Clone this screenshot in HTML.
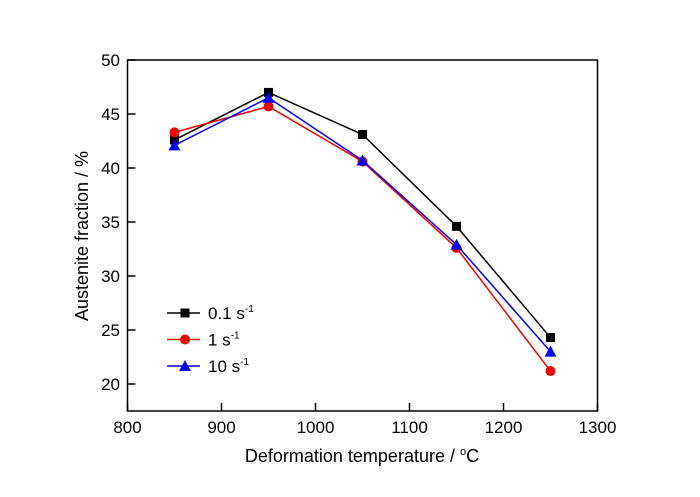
<!DOCTYPE html>
<html><head><meta charset="utf-8"><style>
body{margin:0;background:#fff;}
svg{display:block;font-family:"Liberation Sans",Arial,sans-serif;}
</style></head><body>
<svg id="chart" width="700" height="497">
<g id="ticks"></g><g id="series"></g>
<rect x="127.5" y="60" width="470" height="351" fill="none" stroke="#000" stroke-width="1.5"/>
<text x="362" y="462" font-size="18" text-anchor="middle">Deformation temperature / <tspan dy="-7" font-size="11">o</tspan><tspan dy="7">C</tspan></text>
<text transform="translate(88,236) rotate(-90)" font-size="18" text-anchor="middle">Austenite fraction / %</text>
<g id="legend"></g>
</svg>
<script>
const temps=[850,950,1050,1150,1250];
const s01=[42.6,47.0,43.1,34.6,24.3];
const s1=[43.3,45.7,40.6,32.6,21.2];
const s10=[42.1,46.5,40.7,32.9,23.0];
const xTicks=[800,900,1000,1100,1200,1300];
const yTicks=[20,25,30,35,40,45,50];
const seriesNames=["0.1","1","10"];
const NS="http://www.w3.org/2000/svg";
const X=v=>127.5+(v-800)*470/500;
const Y=v=>60+(50-v)*351/32.5;
function mk(tag,attrs,parent){const e=document.createElementNS(NS,tag);for(const k in attrs)e.setAttribute(k,attrs[k]);parent.appendChild(e);return e;}
const tg=document.getElementById('ticks');
xTicks.forEach(t=>{
 const l=mk('line',{x1:X(t),x2:X(t),y1:411,y2:403,stroke:'#000','stroke-width':1.5},tg);
 
 
 const tx=mk('text',{x:X(t),y:433,'font-size':17,'text-anchor':'middle'},tg);tx.textContent=t;
 
 
});
yTicks.forEach(t=>{
 const l=mk('line',{x1:127.5,x2:135.5,y1:Y(t),y2:Y(t),stroke:'#000','stroke-width':1.5},tg);
 
 
 const tx=mk('text',{x:120,y:Y(t)+6,'font-size':17,'text-anchor':'end'},tg);tx.textContent=t;
 
 
});
function marker(kind,x,y,color,p){
 let m;
 if(kind==='sq')m=mk('rect',{x:x-4.5,y:y-4.5,width:9,height:9,fill:color},p);
 else if(kind==='ci')m=mk('circle',{cx:x,cy:y,r:5,fill:color},p);
 else m=mk('polygon',{points:`${x},${y-6} ${x-6},${y+5} ${x+6},${y+5}`,fill:color},p);
 return m;
}
const sg=document.getElementById('series');
const defs=[[s01,'#000','sq'],[s1,'#e00','ci'],[s10,'#00e','tr']];
defs.forEach(([vals,c,k],i)=>{
 const pl=mk('polyline',{points:vals.map((v,j)=>X(temps[j])+','+Y(v)).join(' '),fill:'none',stroke:c,'stroke-width':1.5},sg);
 
 
 vals.forEach((v,j)=>{const m=marker(k,X(temps[j]),Y(v),c,sg);
  
  });
});
const lg=document.getElementById('legend');
defs.forEach(([vals,c,k],i)=>{
 const y=313+i*26.5;
 const l=mk('line',{x1:167,x2:200,y1:y,y2:y,stroke:c,'stroke-width':1.5},lg);
 
 
 marker(k,185,y,c,lg);
 const t=mk('text',{x:208,y:y+6,'font-size':17},lg);
 t.innerHTML=seriesNames[i]+' s<tspan dy="-7" font-size="10">-1</tspan>';
 
 
});
</script>
</body></html>
